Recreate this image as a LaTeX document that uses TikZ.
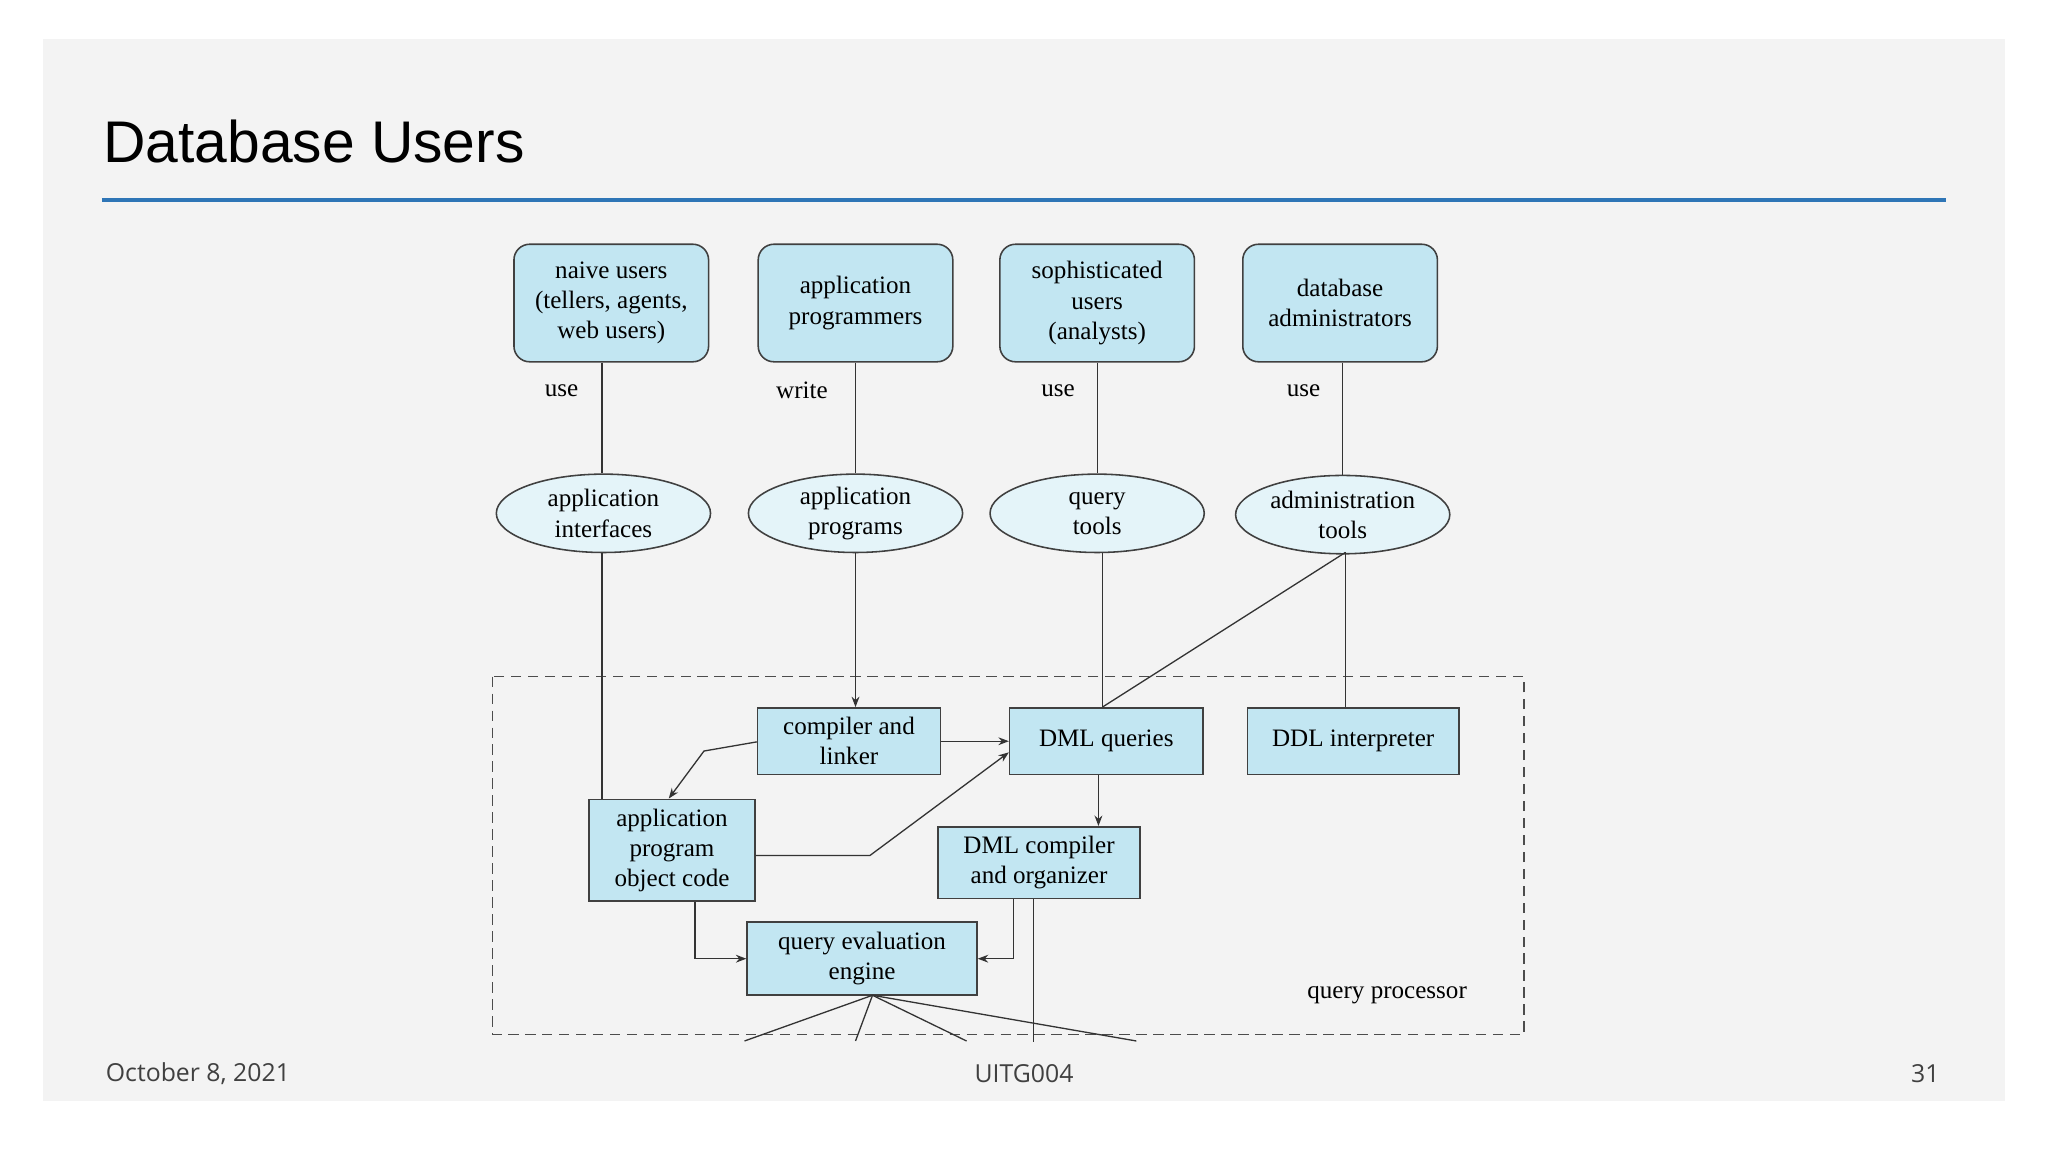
\documentclass[tikz,border=0pt]{standalone}
\usepackage{fontspec}
\setmainfont{Liberation Serif}
\newfontfamily\sansf{Liberation Sans}
\newfontfamily\footf{Open Sans}
\usetikzlibrary{shapes.geometric,arrows.meta}
\definecolor{boxblue}{HTML}{C2E6F2}
\definecolor{rule}{HTML}{2E75B6}
\definecolor{slide}{HTML}{F3F3F3}
\begin{document}
\begin{tikzpicture}[x=0.5pt,y=-0.5pt,
 user/.style={draw=black!75,fill=boxblue,rounded corners=6pt,minimum width=74.5pt,minimum height=45pt,align=center,font=\fontsize{9.6}{11.6}\selectfont,line width=0.6pt},
 el/.style={draw=black!75,fill=boxblue!45!white,ellipse,minimum width=82pt,minimum height=30pt,align=center,font=\fontsize{9.6}{11.6}\selectfont,inner sep=0pt,line width=0.6pt},
 box/.style={draw=black!75,fill=boxblue,align=center,font=\fontsize{9.6}{11.6}\selectfont,inner sep=1pt,line width=0.6pt},
 lbl/.style={font=\fontsize{9.6}{11.6}\selectfont},
 ln/.style={draw=black!80,line width=0.5pt},
 ar/.style={ln,-{Stealth[length=4pt,width=3pt]}}]
\useasboundingbox (0,0) rectangle (1568,882);
\fill[white] (0,0) rectangle (1568,882);
\fill[slide] (33,30) rectangle (1535,843);
\node[anchor=west,font=\sansf\fontsize{22.5}{26}\selectfont] (title) at (72,108) {Database Users};
\draw[rule,line width=1.5pt] (78,153) -- (1490,153);
% users
\node[user] (u1) at (468,232) {naive users\\(tellers, agents,\\web users)};
\node[user] (u2) at (655,232) {application\\programmers};
\node[user] (u3) at (840,232) {sophisticated\\users\\(analysts)};
\node[user] (u4) at (1026,232) {database\\administrators};
\node[lbl] (l1) at (430,299) {use};
\node[lbl] (l2) at (614,299) {write};
\node[lbl] (l3) at (810,299) {use};
\node[lbl] (l4) at (998,299) {use};
% ellipses
\node[el] (e1) at (462,393) {application\\interfaces};
\node[el] (e2) at (655,393) {application\\programs};
\node[el] (e3) at (840,393) {query\\tools};
\node[el] (e4) at (1028,394) {administration\\tools};
% dashed
\draw[dashed,black!70,line width=0.7pt,dash pattern=on 4pt off 2.5pt] (377,518) rectangle (1167,792);
\node[lbl] (qp) at (1062,762) {query processor};
% boxes
\node[box,minimum width=70pt,minimum height=25.5pt] (cl) at (650,567.5) {compiler and\\linker};
\node[box,minimum width=74pt,minimum height=25.5pt] (dml) at (847,567.5) {DML queries};
\node[box,minimum width=81pt,minimum height=25.5pt] (ddl) at (1036,567.5) {DDL interpreter};
\node[box,minimum width=63.5pt,minimum height=39pt] (obj) at (514.5,651) {application\\program\\object code};
\node[box,minimum width=77.5pt,minimum height=27.5pt] (dc) at (795.5,660.5) {DML compiler\\and organizer};
\node[box,minimum width=88pt,minimum height=28pt] (qe) at (660,734) {query evaluation\\engine};
% connectors
\draw[ln] (u1.south -| 461,0) -- (e1.north -| 461,0);
\draw[ln] (u2.south) -- (e2.north);
\draw[ln] (u3.south) -- (e3.north);
\draw[ln] (u4.south -| 1028,0) -- (e4.north);
\draw[ln] (e1.south -| 461,0) -- (obj.north -| 461,0);
\draw[ar] (e2.south) -- (cl.north -| 655,0);
\draw[ln] (e3.south -| 844,0) -- (dml.north -| 844,0);
\coordinate (a4) at (1030,423);
\draw[ln] (a4) -- (dml.north -| 844,0);
\draw[ln] (a4) -- (ddl.north -| 1030,0);
\draw[ar] (cl.east) -- (dml.west);
\coordinate (k1) at (539,575);
\draw[ar] (cl.west |- 0,568) -- (k1) -- (obj.north -| 512,0);
\coordinate (k2) at (666,655);
\draw[ar] (obj.east |- 0,655) -- (k2) -- (dml.west |- 0,576);
\draw[ar] (dml.south -| 841,0) -- (dc.north -| 841,0);
\coordinate (k3) at (532,734);
\draw[ar] (obj.south -| 532,0) -- (k3) -- (qe.west);
\coordinate (k4) at (776,734);
\draw[ar] (dc.south -| 776,0) -- (k4) -- (qe.east);
\coordinate (d1) at (791,798);
\draw[ln] (dc.south -| 791,0) -- (d1);
\coordinate (q0) at (668,762);
\coordinate (f1) at (570,797);
\coordinate (f2) at (655,797);
\coordinate (f3) at (740,797);
\coordinate (f4) at (870,797);
\draw[ln] (q0) -- (f1); \draw[ln] (q0) -- (f2); \draw[ln] (q0) -- (f3); \draw[ln] (q0) -- (f4);
% footer
\node[anchor=west,font=\footf\fontsize{9.5}{11}\selectfont,text=black!75] (date) at (74,822) {October 8, 2021};
\node[font=\footf\fontsize{9.5}{11}\selectfont,text=black!75] (code) at (784,822) {UITG004};
\node[anchor=east,font=\footf\fontsize{9.5}{11}\selectfont,text=black!75] (pg) at (1492,822) {31};
\end{tikzpicture}
\end{document}
